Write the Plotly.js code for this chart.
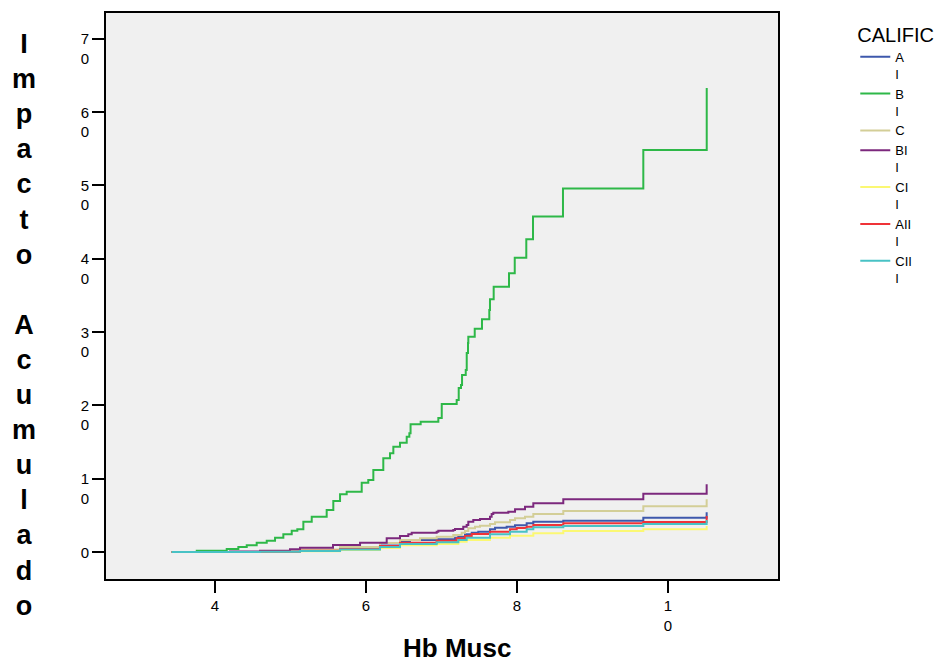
<!DOCTYPE html>
<html>
<head>
<meta charset="utf-8">
<script src="https://cdn.plot.ly/plotly-3.0.1.min.js"></script>
<style>
html,body{margin:0;padding:0;background:#fff;}
#chart{width:949px;height:666px;}
</style>
</head>
<body>
<div id="chart"></div>
<script>
// Series names and colors
const seriesNames = ["A<br>I", "B<br>I", "C", "BI<br>I", "CI<br>I", "AII<br>I", "CII<br>I"];
const seriesColors = ["#3E58AC", "#2EB848", "#D3CE97", "#7C287D", "#FBF873", "#EF3338", "#48C2C5"];

// A
const hb_A  = [3.426, 4.596, 5.126, 5.656, 6.185, 6.450, 6.583, 6.936, 7.179, 7.223, 7.311, 7.400, 7.487, 7.642, 7.709, 7.863, 7.974, 8.128, 8.216, 8.613, 9.673, 10.512];
const imp_A = [0, 0.04, 0.20, 0.45, 0.89, 1.41, 1.64, 1.73, 1.95, 2.09, 2.41, 2.63, 2.77, 3.10, 3.32, 3.45, 3.64, 3.92, 4.13, 4.27, 4.68, 5.42];

// B
const hb_B  = [3.426, 3.758, 4.155, 4.309, 4.420, 4.552, 4.685, 4.795, 4.905, 5.016, 5.090, 5.170, 5.281, 5.479, 5.567, 5.656, 5.744, 5.943, 6.030, 6.097, 6.229, 6.318, 6.362, 6.450, 6.539, 6.574, 6.590, 6.724, 6.958, 7.003, 7.201, 7.228, 7.258, 7.272, 7.321, 7.334, 7.351, 7.355, 7.440, 7.536, 7.633, 7.642, 7.691, 7.894, 7.970, 8.123, 8.212, 8.609, 9.673, 10.513];
const imp_B = [0, 0.18, 0.41, 0.68, 0.91, 1.27, 1.54, 1.95, 2.41, 2.91, 3.10, 4.13, 4.82, 5.73, 6.96, 7.87, 8.23, 9.45, 9.82, 11.19, 12.78, 13.47, 14.37, 14.91, 15.73, 16.19, 17.42, 17.78, 18.28, 20.19, 20.74, 22.37, 22.78, 24.15, 24.83, 27.15, 28.51, 29.37, 30.46, 31.75, 33.02, 34.47, 36.19, 38.02, 40.15, 42.66, 45.77, 49.59, 54.84, 63.30];

// C
const hb_C  = [3.426, 4.596, 5.126, 5.656, 6.185, 6.450, 6.715, 6.936, 7.156, 7.267, 7.311, 7.355, 7.444, 7.510, 7.642, 7.709, 7.907, 7.974, 8.106, 8.216, 8.613, 9.673, 10.512];
const imp_C = [0, 0.07, 0.34, 0.68, 1.23, 1.64, 1.87, 2.09, 2.32, 2.63, 2.86, 3.23, 3.45, 3.59, 3.82, 4.05, 4.37, 4.60, 4.82, 5.18, 5.59, 6.23, 7.19];

// BI
const hb_BI  = [3.426, 4.199, 4.596, 4.993, 5.126, 5.563, 5.921, 6.274, 6.450, 6.560, 6.605, 6.936, 6.958, 7.156, 7.179, 7.288, 7.333, 7.355, 7.421, 7.510, 7.642, 7.664, 7.686, 7.885, 7.974, 8.106, 8.216, 8.613, 9.673, 10.512];
const imp_BI = [0, 0.07, 0.18, 0.37, 0.59, 0.95, 1.27, 1.87, 2.18, 2.41, 2.63, 2.77, 2.91, 3.00, 3.14, 3.45, 3.68, 4.13, 4.37, 4.50, 4.82, 5.18, 5.36, 5.50, 5.83, 6.18, 6.64, 7.19, 7.95, 9.24];

// CI
const hb_CI  = [3.426, 4.596, 5.126, 5.656, 6.185, 6.450, 6.936, 7.223, 7.333, 7.642, 7.907, 8.216, 8.613, 9.673, 10.512];
const imp_CI = [0, 0.01, 0.10, 0.27, 0.55, 0.91, 1.09, 1.41, 1.64, 1.95, 2.22, 2.55, 2.86, 3.10, 3.55];

// AII
const hb_AII  = [3.426, 4.596, 5.126, 5.656, 6.185, 6.450, 6.936, 7.201, 7.311, 7.400, 7.642, 7.907, 7.996, 8.128, 8.216, 8.613, 9.673, 10.512];
const imp_AII = [0, 0.03, 0.18, 0.41, 0.82, 1.27, 1.54, 1.87, 2.18, 2.46, 2.77, 3.10, 3.27, 3.45, 3.68, 3.92, 4.09, 4.91];

// CII
const hb_CII  = [3.426, 4.596, 5.126, 5.656, 6.185, 6.450, 6.936, 7.223, 7.333, 7.642, 7.907, 8.128, 8.216, 8.613, 9.673, 10.512];
const imp_CII = [0, 0.03, 0.14, 0.34, 0.68, 1.09, 1.32, 1.64, 1.95, 2.41, 2.77, 3.10, 3.37, 3.55, 3.82, 4.37];

// Ticks
const xTickVals = [4, 6, 8, 10];
const xTickText = ["4", "6", "8", "1<br>0"];
const yTickVals = [0, 10, 20, 30, 40, 50, 60, 70];
const yTickText = ["0<br>\u00a0", "1<br>0", "2<br>0", "3<br>0", "4<br>0", "5<br>0", "6<br>0", "7<br>0"];

const legendTitle = "CALIFIC";
const xTitle = "Hb Musc";
const yTitleWords = ["Impacto", "Acumulado"];

const xs = [hb_A, hb_B, hb_C, hb_BI, hb_CI, hb_AII, hb_CII];
const ys = [imp_A, imp_B, imp_C, imp_BI, imp_CI, imp_AII, imp_CII];

const traces = xs.map((x, i) => ({
  type: "scatter",
  mode: "lines",
  x: x,
  y: ys[i],
  name: seriesNames[i],
  line: {shape: "hv", color: seriesColors[i], width: 2}
}));

const yTitleText = yTitleWords.map(w => w.split("").join("<br>")).join("<br> <br>");

const layout = {
  width: 949,
  height: 666,
  margin: {l: 106, r: 171, t: 13, b: 87},
  paper_bgcolor: "#ffffff",
  plot_bgcolor: "#f0f0f0",
  font: {family: "Liberation Sans, Arial, sans-serif", color: "#000"},
  showlegend: true,
  legend: {
    x: 1.115, xanchor: "left",
    y: 0.995, yanchor: "top",
    bgcolor: "rgba(0,0,0,0)",
    valign: "top",
    font: {size: 13, color: "#000"},
    title: {text: legendTitle, font: {size: 20, color: "#000"}},
    tracegroupgap: 0
  },
  xaxis: {
    range: [2.556, 11.457],
    tickvals: xTickVals,
    ticktext: xTickText,
    ticks: "outside",
    ticklen: 12,
    tickwidth: 2,
    tickcolor: "#000",
    showline: true,
    linecolor: "#000",
    linewidth: 2,
    mirror: true,
    showgrid: false,
    zeroline: false,
    tickfont: {size: 15, color: "#000"}
  },
  yaxis: {
    range: [-3.68, 73.53],
    tickvals: yTickVals,
    ticktext: yTickText,
    ticks: "outside",
    ticklen: 12,
    tickwidth: 2,
    tickcolor: "#000",
    showline: true,
    linecolor: "#000",
    linewidth: 2,
    mirror: true,
    showgrid: false,
    zeroline: false,
    ticklabelshift: 10,
    tickfont: {size: 15, color: "#000"}
  },
  annotations: [
    {
      text: "<b>" + xTitle + "</b>",
      xref: "paper", yref: "paper",
      x: 0.522, y: -0.122,
      xanchor: "center", yanchor: "middle",
      showarrow: false,
      font: {size: 26, color: "#000"}
    },
    {
      text: "<b>" + yTitleText + "</b>",
      xref: "paper", yref: "paper",
      x: -0.122, y: 0.449,
      xanchor: "center", yanchor: "middle",
      showarrow: false,
      font: {size: 27, color: "#000"}
    }
  ]
};

Plotly.newPlot("chart", traces, layout, {displayModeBar: false, staticPlot: true});
</script>
</body>
</html>
